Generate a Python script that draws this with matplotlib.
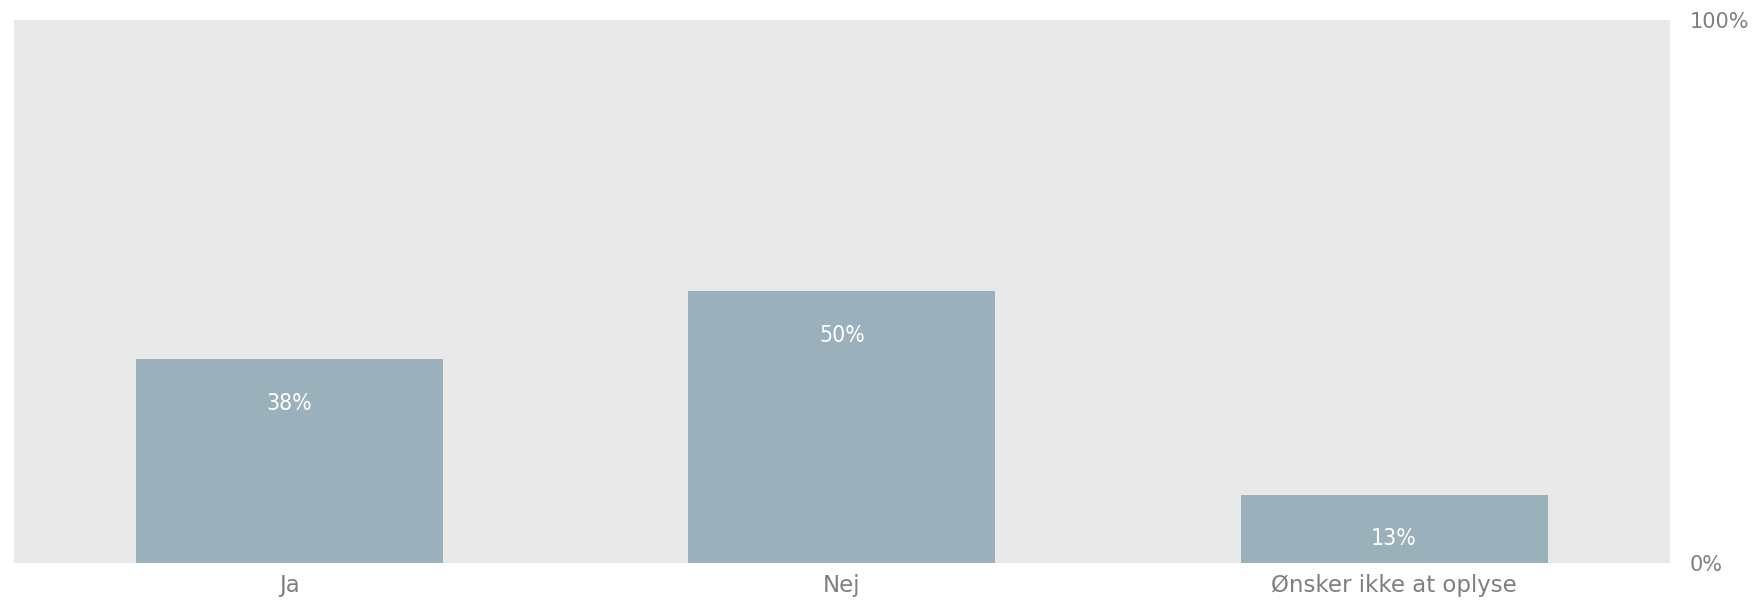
import matplotlib
matplotlib.use("Agg")
import matplotlib.pyplot as plt
import numpy as np

# Data
categories = ["Ja", "Nej", "Ønsker ikke at oplyse"]
values = [37.5, 50.0, 12.5]
value_labels = ["38%", "50%", "13%"]
ytick_vals = [0, 100]
ytick_labels = ["0%", "100%"]

bg_col = "#e9e9e9"
bar_col = "#9ab1bc"
txt_col = "#7f7f7f"

fig = plt.figure(figsize=(17.63, 6.0), dpi=100)
ax = fig.add_axes([0.0077, 0.0617, 0.9396, 0.905])
ax.set_facecolor(bg_col)

x = np.arange(len(categories))
bars = ax.bar(x, values, width=0.556, color=bar_col, zorder=2)

# value labels inside the bars, near the top
for b, lab in zip(bars, value_labels):
    ax.annotate(lab, (b.get_x() + b.get_width() / 2, b.get_height()),
                xytext=(0, -31.5), textcoords="offset points",
                ha="center", va="center", color="white",
                fontsize=16.5, fontstretch="condensed")

ax.set_xlim(-0.5, len(categories) - 0.5)
ax.set_ylim(0, 100)
ax.set_xticks(x)
ax.set_xticklabels(categories, fontsize=16.5, color=txt_col)
ax.set_yticks(ytick_vals)
ax.set_yticklabels(ytick_labels, fontsize=15, color=txt_col)
ax.yaxis.tick_right()
ax.tick_params(axis="y", length=0, pad=14)
ax.tick_params(axis="x", length=0, pad=8)
for s in ax.spines.values():
    s.set_visible(False)

fig.savefig("out.png", dpi=100)
